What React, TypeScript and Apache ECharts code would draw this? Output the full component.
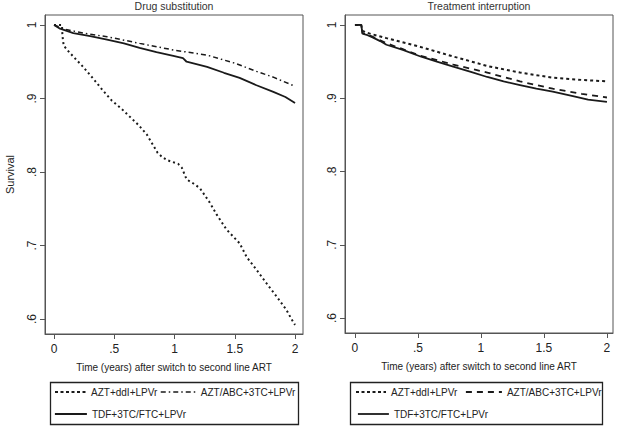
import React, { useEffect, useRef } from "react";
import * as echarts from "echarts";

const TITLES = ["Drug substitution", "Treatment interruption"];
const X_NAME = "Time (years) after switch to second line ART";
const Y_NAME = "Survival";
const X_TICKS = [0, 0.5, 1, 1.5, 2];
const Y_TICKS = [0.6, 0.7, 0.8, 0.9, 1];
const NAME_A = "AZT+ddI+LPVr";
const NAME_B = "AZT/ABC+3TC+LPVr";
const NAME_C = "TDF+3TC/FTC+LPVr";

// Drug substitution panel
const drugA: [number, number][] = [
  [0, 1], [0.065, 1], [0.07, 0.985], [0.08, 0.972], [0.11, 0.966], [0.16, 0.957],
  [0.23, 0.945], [0.32, 0.928], [0.4, 0.912], [0.48, 0.897], [0.56, 0.886],
  [0.63, 0.875], [0.7, 0.864], [0.77, 0.851], [0.86, 0.826], [0.9, 0.82],
  [0.94, 0.816], [1.03, 0.811], [1.06, 0.806], [1.1, 0.79], [1.16, 0.784],
  [1.21, 0.778], [1.29, 0.759], [1.35, 0.742], [1.43, 0.722], [1.54, 0.703],
  [1.6, 0.684], [1.68, 0.667], [1.77, 0.647], [1.85, 0.63], [1.93, 0.612],
  [1.97, 0.6], [2.0, 0.592],
];
const drugB: [number, number][] = [
  [0, 1], [0.1, 0.994], [0.24, 0.989], [0.44, 0.984], [0.71, 0.975], [0.99, 0.966],
  [1.27, 0.959], [1.5, 0.948], [1.68, 0.937], [1.82, 0.929], [1.98, 0.918],
];
const drugC: [number, number][] = [
  [0, 1], [0.05, 0.995], [0.16, 0.989], [0.3, 0.985], [0.44, 0.98], [0.58, 0.975],
  [0.71, 0.969], [0.85, 0.963], [0.99, 0.958], [1.07, 0.955], [1.1, 0.95],
  [1.27, 0.943], [1.41, 0.935], [1.54, 0.928], [1.68, 0.918], [1.82, 0.909],
  [1.92, 0.902], [2.0, 0.894],
];

// Treatment interruption panel
const intA: [number, number][] = [
  [0, 1], [0.05, 1], [0.06, 0.992], [0.1, 0.989], [0.25, 0.982], [0.52, 0.97],
  [0.78, 0.957], [1.05, 0.944], [1.31, 0.935], [1.57, 0.928], [1.8, 0.925], [2.0, 0.923],
];
const intB: [number, number][] = [
  [0, 1], [0.05, 1], [0.06, 0.989], [0.14, 0.984], [0.25, 0.975], [0.38, 0.967],
  [0.52, 0.958], [0.78, 0.946], [1.05, 0.935], [1.31, 0.923], [1.57, 0.913],
  [1.8, 0.906], [2.0, 0.901],
];
const intC: [number, number][] = [
  [0, 1], [0.05, 1], [0.06, 0.988], [0.1, 0.986], [0.14, 0.983], [0.2, 0.978],
  [0.25, 0.973], [0.38, 0.966], [0.52, 0.957], [0.65, 0.95], [0.78, 0.943],
  [0.92, 0.936], [1.05, 0.929], [1.18, 0.923], [1.31, 0.918], [1.44, 0.913],
  [1.57, 0.909], [1.73, 0.903], [1.85, 0.898], [2.0, 0.895],
];

const FONT = "'Liberation Sans', Arial, sans-serif";
const INK = "#1a1a1a";
const AXIS = "#555";
const DOT_L = { type: [2, 3], width: 2, color: INK };
const DOT_R = { type: [3, 3], width: 2, color: INK };
const DOT_LEG = { type: [3, 2.5], width: 2, color: INK };
const DASHDOT = { type: [5, 3, 1.5, 3], width: 1.5, color: INK };
const DASH = { type: [6, 5], width: 1.8, color: INK };
const SOLID = { type: "solid", width: 1.8, color: INK };

const fmt = (v: number) => (v === 0 ? "0" : String(v).replace(/^0\./, "."));

export default function App() {
  const ref = useRef<HTMLDivElement>(null);
  useEffect(() => {
    if (!ref.current) return;
    const chart = echarts.init(ref.current, undefined, { renderer: "svg" });
    const grids = [
      { left: 45, top: 15, width: 258, height: 319 },
      { left: 345, top: 15, width: 268, height: 318 },
    ];
    const xRanges = [
      [-0.075, 2.066],
      [-0.079, 2.048],
    ];
    const xAxis = [0, 1].map((i) => ({
      gridIndex: i,
      type: "value",
      min: xRanges[i][0],
      max: xRanges[i][1],
      axisLine: { show: true, onZero: false, lineStyle: { color: AXIS, width: 1 } },
      axisTick: { show: true, length: 5, customValues: X_TICKS, lineStyle: { color: AXIS } },
      axisLabel: {
        customValues: X_TICKS,
        formatter: fmt,
        fontSize: 12,
        color: "#222",
        fontFamily: FONT,
        margin: 9,
      },
      splitLine: { show: false },
      name: X_NAME,
      nameLocation: "middle",
      nameGap: 28,
      nameTextStyle: { fontSize: 10, color: "#222", fontFamily: FONT },
    }));
    const yAxis = [0, 1].map((i) => ({
      gridIndex: i,
      type: "value",
      min: 0.5796,
      max: 1.0136,
      axisLine: { show: true, onZero: false, lineStyle: { color: AXIS, width: 1 } },
      axisTick: { show: true, length: 5, customValues: Y_TICKS, lineStyle: { color: AXIS } },
      axisLabel: {
        customValues: Y_TICKS,
        formatter: fmt,
        rotate: 90,
        fontSize: 12,
        color: "#222",
        fontFamily: FONT,
        margin: 7,
      },
      splitLine: { show: false },
      name: i === 0 ? Y_NAME : "",
      nameLocation: "middle",
      nameGap: 30,
      nameTextStyle: { fontSize: 11, color: "#222", fontFamily: FONT },
    }));
    const mk = (name: string, data: [number, number][], idx: number, ls: any) => ({
      type: "line",
      name,
      data,
      xAxisIndex: idx,
      yAxisIndex: idx,
      symbol: "none",
      showSymbol: false,
      lineStyle: ls,
      itemStyle: { color: INK },
      z: 3,
    });
    const leg = (name: string, left: number, top: number, w: number, ls: any) => ({
      data: [name],
      left,
      top,
      orient: "horizontal",
      itemWidth: w,
      itemHeight: 10,
      padding: 0,
      selectedMode: false,
      lineStyle: ls,
      itemStyle: { color: INK, opacity: 0 },
      textStyle: { fontSize: 10, color: "#222", fontFamily: FONT },
    });
    chart.setOption({
      animation: false,
      backgroundColor: "#fff",
      title: [
        { text: TITLES[0], left: 174, top: 0, textAlign: "center", padding: 0,
          textStyle: { fontSize: 10.5, fontWeight: "normal", color: "#333", fontFamily: FONT } },
        { text: TITLES[1], left: 479, top: 0, textAlign: "center", padding: 0,
          textStyle: { fontSize: 10.5, fontWeight: "normal", color: "#333", fontFamily: FONT } },
      ],
      grid: grids.map((g) => ({ ...g, show: true, borderColor: AXIS, borderWidth: 1, backgroundColor: "transparent" })),
      xAxis,
      yAxis,
      legend: [
        leg(NAME_A, 54, 387, 31, DOT_LEG),
        leg(NAME_B, 160, 387, 35, DASHDOT),
        leg(NAME_C, 54, 409, 32, SOLID),
        leg(NAME_A, 355, 387, 30, DOT_LEG),
        leg(NAME_B, 465, 387, 36, DASH),
        leg(NAME_C, 357, 409, 31, SOLID),
      ],
      graphic: [
        { type: "rect", shape: { x: 50.5, y: 382.5, width: 248, height: 42 },
          style: { fill: "none", stroke: "#222", lineWidth: 1.3 } },
        { type: "rect", shape: { x: 350.5, y: 382.5, width: 252, height: 42 },
          style: { fill: "none", stroke: "#222", lineWidth: 1.3 } },
      ],
      series: [
        mk(NAME_A, drugA, 0, DOT_L),
        mk(NAME_B, drugB, 0, DASHDOT),
        mk(NAME_C, drugC, 0, SOLID),
        mk(NAME_A, intA, 1, DOT_R),
        mk(NAME_B, intB, 1, DASH),
        mk(NAME_C, intC, 1, SOLID),
      ],
    });
    return () => chart.dispose();
  }, []);
  return (
    <div
      ref={ref}
      style={{ position: "fixed", left: 0, top: 0, width: 618, height: 428, background: "#fff" }}
    />
  );
}
